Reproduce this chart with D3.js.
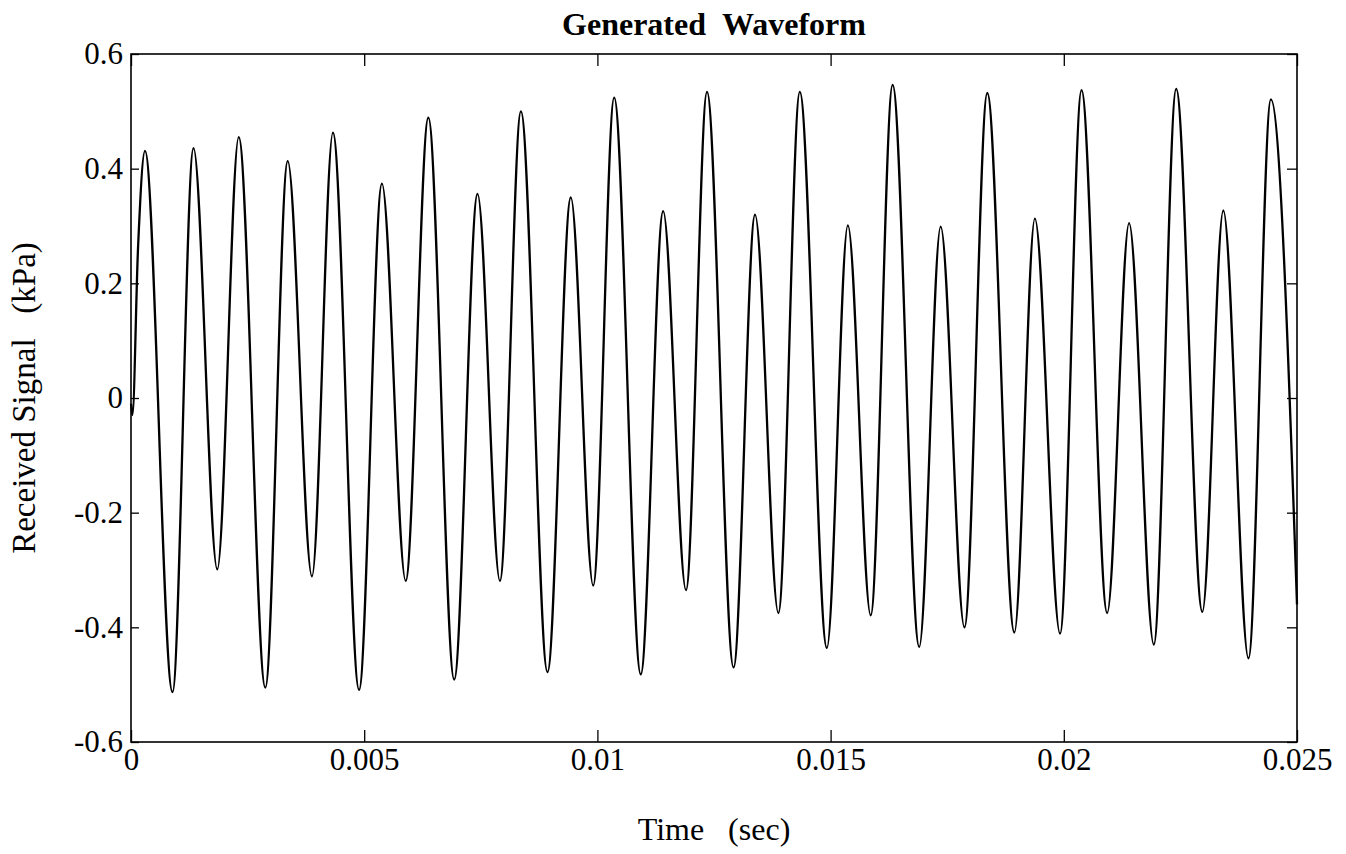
<html>
<script src='https://d3js.org/d3.v7.min.js'></script>
<style>
body {margin: 0; background: white;}
text {font-family: "Liberation Serif", "Times New Roman", serif; fill: black;}
.tick line {stroke: black; stroke-width: 1.3;}
</style>
<body>
<svg width=1346 height=854></svg>
<script>
// extrema (time in ms, signal in kPa)
var timeMs = [0, 0.03, 0.15, 0.30, 0.89, 1.34, 1.85, 2.31, 2.88, 3.36, 3.88, 4.33, 4.89, 5.38, 5.89,
    6.375, 6.93, 7.43, 7.91, 8.36, 8.93, 9.43, 9.91, 10.36, 10.93, 11.41, 11.90, 12.35, 12.92,
    13.38, 13.88, 14.34, 14.92, 15.37, 15.86, 16.33, 16.90, 17.36, 17.87, 18.36, 18.94, 19.38,
    19.92, 20.38, 20.93, 21.40, 21.93, 22.41, 22.97, 23.42, 23.96, 24.44, 25.0];
var signal = [-0.01, -0.03, 0.26, 0.431, -0.513, 0.436, -0.299, 0.455, -0.505, 0.413, -0.311, 0.463, -0.509, 0.374, -0.319,
    0.489, -0.491, 0.356, -0.319, 0.500, -0.478, 0.350, -0.327, 0.524, -0.482, 0.326, -0.335, 0.534, -0.470,
    0.320, -0.375, 0.534, -0.436, 0.301, -0.379, 0.546, -0.434, 0.299, -0.400, 0.532, -0.409, 0.313,
    -0.411, 0.537, -0.375, 0.305, -0.430, 0.539, -0.373, 0.327, -0.454, 0.521, -0.36];

var xTicks = [0, 0.005, 0.01, 0.015, 0.02, 0.025];
var xTickLabels = ["0", "0.005", "0.01", "0.015", "0.02", "0.025"];
var yTicks = [-0.6, -0.4, -0.2, 0, 0.2, 0.4, 0.6];
var yTickLabels = ["-0.6", "-0.4", "-0.2", "0", "0.2", "0.4", "0.6"];

var marginLeft = 131, marginTop = 54, width = 1166, height = 688;

var svg = d3.select("svg");
var x = d3.scaleLinear().domain([0, 0.025]).range([0, width]);
var y = d3.scaleLinear().domain([-0.6, 0.6]).range([height, 0]);

var g = svg.append("g").attr("transform", "translate(" + marginLeft + "," + marginTop + ")");

var data = timeMs.map(function(t, i) { return {t: t / 1000, v: signal[i]}; });

g.append("path")
    .datum(data)
    .attr("fill", "none")
    .attr("stroke", "black")
    .attr("stroke-width", 2.3)
    .attr("d", d3.line().x(function(d) { return x(d.t); }).y(function(d) { return y(d.v); })
        .curve(d3.curveMonotoneX));

g.append("g")
    .attr("transform", "translate(0," + height + ")")
    .call(d3.axisBottom(x).tickValues(xTicks).tickFormat(function(d, i) { return xTickLabels[i]; })
        .tickSizeInner(-12).tickSizeOuter(0).tickPadding(6))
    .call(function(a) { a.select(".domain").remove(); })
    .selectAll("text").style("font-size", "31px");

g.append("g")
    .call(d3.axisTop(x).tickValues(xTicks).tickFormat("").tickSizeInner(-12).tickSizeOuter(0))
    .call(function(a) { a.select(".domain").remove(); });

g.append("g")
    .call(d3.axisLeft(y).tickValues(yTicks).tickFormat(function(d, i) { return yTickLabels[i]; })
        .tickSizeInner(-8).tickSizeOuter(0).tickPadding(8))
    .call(function(a) { a.select(".domain").remove(); })
    .selectAll("text").style("font-size", "31px");

g.append("g")
    .attr("transform", "translate(" + width + ",0)")
    .call(d3.axisRight(y).tickValues(yTicks).tickFormat("").tickSizeInner(-10).tickSizeOuter(0))
    .call(function(a) { a.select(".domain").remove(); });

g.append("rect")
    .attr("width", width).attr("height", height)
    .attr("fill", "none").attr("stroke", "black").attr("stroke-width", 1.6);

svg.append("text")
    .attr("x", marginLeft + width / 2).attr("y", 35)
    .style("text-anchor", "middle").style("font-size", "32px").style("font-weight", "bold")
    .text("Generated\u00a0\u00a0Waveform");

svg.append("text")
    .attr("x", marginLeft + width / 2).attr("y", 840)
    .style("text-anchor", "middle").style("font-size", "32px")
    .text("Time\u00a0\u00a0\u00a0(sec)");

svg.append("text")
    .attr("transform", "translate(35," + (marginTop + height / 2) + ") rotate(-90)")
    .style("text-anchor", "middle").style("font-size", "33px")
    .text("Received Signal\u00a0\u00a0\u00a0(kPa)");
</script>
</body>
</html>
